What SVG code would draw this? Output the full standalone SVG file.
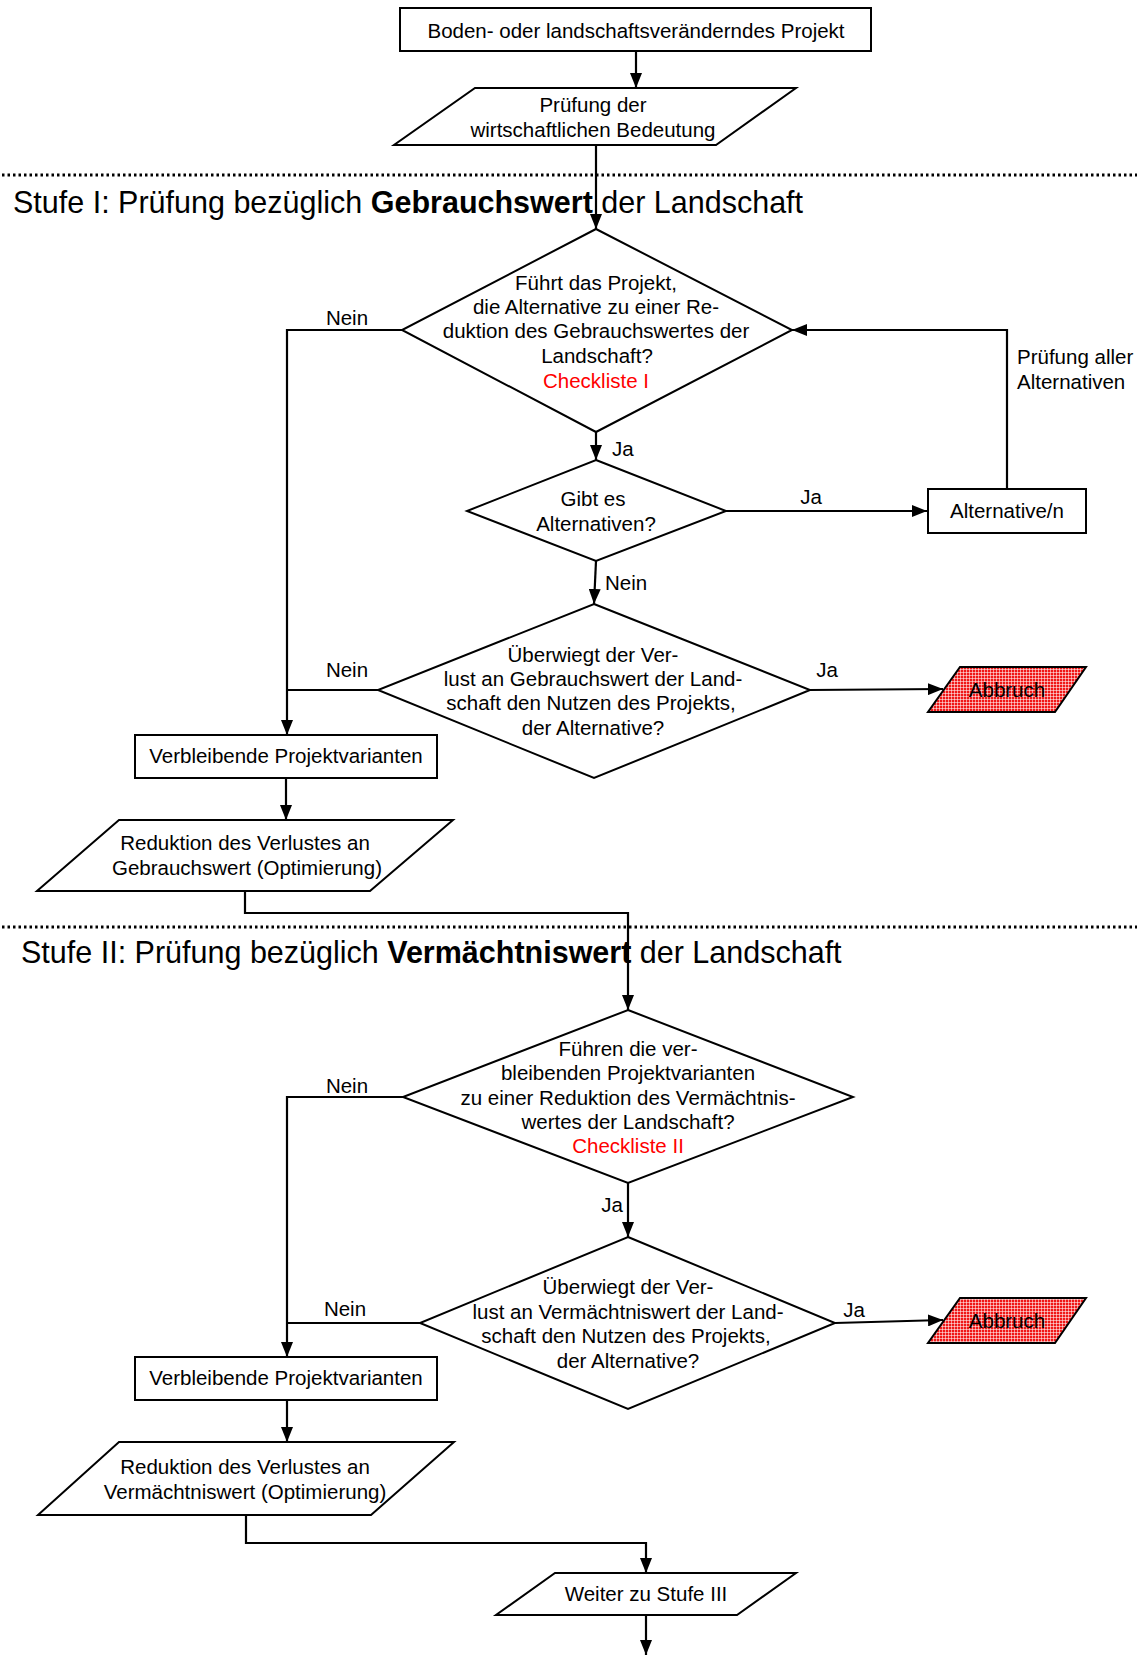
<svg xmlns="http://www.w3.org/2000/svg" width="1137" height="1655" viewBox="0 0 1137 1655">
<style>
text{font-family:"Liberation Sans",Arial,sans-serif;font-size:20.5px;fill:#000}
.c{text-anchor:middle}
.red{fill:#ff0000}
.title{font-size:30.5px}
.b{font-weight:bold}
.shape{fill:#fff;stroke:#000;stroke-width:2}
.abb{fill:url(#hatch);stroke:#000;stroke-width:2}
.con{fill:none;stroke:#000;stroke-width:2.2}
.arr{marker-end:url(#ah)}
.dots{stroke:#000;stroke-width:3;stroke-dasharray:2.5 3;fill:none}
</style>
<defs>
<marker id="ah" viewBox="0 0 15 12" refX="15" refY="6" markerWidth="15" markerHeight="12" markerUnits="userSpaceOnUse" orient="auto">
<path d="M0,0 L15,6 L0,12 Z" fill="#000"/>
</marker>
<pattern id="hatch" width="3" height="3" patternUnits="userSpaceOnUse">
<rect width="3" height="3" fill="#f01818"/>
<path d="M0,0.4 H3 M0.4,0 V3" stroke="#ffffff" stroke-width="0.8" stroke-opacity="0.75"/>
</pattern>
</defs>

<g id="separators">
<line class="dots" x1="2" y1="175" x2="1137" y2="175"/>
<line class="dots" x1="2" y1="927" x2="1137" y2="927"/>
</g>

<g id="titles">
<text class="title" x="13" y="213">Stufe I: Prüfung bezüglich <tspan class="b">Gebrauchswert</tspan> der Landschaft</text>
<text class="title" x="21" y="963">Stufe II: Prüfung bezüglich <tspan class="b">Vermächtniswert</tspan> der Landschaft</text>
</g>

<g id="connectors">
<path class="con arr" d="M636 51 V88"/>
<path class="con arr" d="M596 145 V229"/>
<path class="con arr" d="M596 432 V460"/>
<path class="con arr" d="M726 511 H927"/>
<path class="con arr" d="M1007 489 V330 H792"/>
<path class="con arr" d="M596 561 L594 604"/>
<path class="con arr" d="M402 330 H287 V735"/>
<path class="con" d="M378 690 H287"/>
<path class="con arr" d="M810 690 L943 689"/>
<path class="con arr" d="M286 778 V820"/>
<path class="con arr" d="M245 891 V913 H628 V1010"/>
<path class="con arr" d="M628 1183 V1237"/>
<path class="con arr" d="M403 1097 H287 V1357"/>
<path class="con" d="M420 1323 H287"/>
<path class="con arr" d="M835 1323 L943 1320"/>
<path class="con arr" d="M287 1400 V1442"/>
<path class="con arr" d="M246 1515 V1543 H646 V1573"/>
<path class="con arr" d="M646 1615 V1655"/>
</g>

<g id="connector-labels">
<text class="c" x="347" y="325">Nein</text>
<text x="612" y="456">Ja</text>
<text class="c" x="811" y="504">Ja</text>
<text x="605" y="590">Nein</text>
<text x="1017" y="364">Prüfung aller</text>
<text x="1017" y="389">Alternativen</text>
<text class="c" x="347" y="677">Nein</text>
<text class="c" x="827" y="677">Ja</text>
<text class="c" x="347" y="1093">Nein</text>
<text class="c" x="612" y="1212">Ja</text>
<text class="c" x="345" y="1316">Nein</text>
<text class="c" x="854" y="1317">Ja</text>
</g>

<g id="n-start">
<rect class="shape" x="400" y="8" width="471" height="43"/>
<text class="c" x="636" y="38">Boden- oder landschaftsveränderndes Projekt</text>
</g>

<g id="n-pruefung">
<polygon class="shape" points="475,88 796,88 716,145 394,145"/>
<text class="c" x="593" y="112">Prüfung der</text>
<text class="c" x="593" y="137">wirtschaftlichen Bedeutung</text>
</g>

<g id="n-d1">
<polygon class="shape" points="596,229 792,330 596,432 402,330"/>
<text class="c" x="596" y="290">Führt das Projekt,</text>
<text class="c" x="596" y="314">die Alternative zu einer Re-</text>
<text class="c" x="596" y="338">duktion des Gebrauchswertes der</text>
<text class="c" x="597" y="363">Landschaft?</text>
<text class="c red" x="596" y="388">Checkliste I</text>
</g>

<g id="n-d2">
<polygon class="shape" points="596,460 726,511 596,561 467,511"/>
<text class="c" x="593" y="506">Gibt es</text>
<text class="c" x="596" y="531">Alternativen?</text>
</g>

<g id="n-alt">
<rect class="shape" x="928" y="489" width="158" height="44"/>
<text class="c" x="1007" y="518">Alternative/n</text>
</g>

<g id="n-d3">
<polygon class="shape" points="594,604 810,690 594,778 378,690"/>
<text class="c" x="593" y="662">Überwiegt der Ver-</text>
<text class="c" x="593" y="686">lust an Gebrauchswert der Land-</text>
<text class="c" x="591" y="710">schaft den Nutzen des Projekts,</text>
<text class="c" x="593" y="735">der Alternative?</text>
</g>

<g id="n-abbruch1">
<polygon class="abb" points="960,667 1086,667 1055,712 928,712"/>
<text class="c" x="1007" y="697">Abbruch</text>
</g>

<g id="n-box1">
<rect class="shape" x="135" y="735" width="302" height="43"/>
<text class="c" x="286" y="763">Verbleibende Projektvarianten</text>
</g>

<g id="n-red1">
<polygon class="shape" points="119,820 453,820 370,891 37,891"/>
<text class="c" x="245" y="850">Reduktion des Verlustes an</text>
<text class="c" x="247" y="875">Gebrauchswert (Optimierung)</text>
</g>

<g id="n-d4">
<polygon class="shape" points="628,1010 853,1097 628,1183 403,1097"/>
<text class="c" x="628" y="1056">Führen die ver-</text>
<text class="c" x="628" y="1080">bleibenden Projektvarianten</text>
<text class="c" x="628" y="1105">zu einer Reduktion des Vermächtnis-</text>
<text class="c" x="628" y="1129">wertes der Landschaft?</text>
<text class="c red" x="628" y="1153">Checkliste II</text>
</g>

<g id="n-d5">
<polygon class="shape" points="628,1237 835,1323 628,1409 420,1323"/>
<text class="c" x="628" y="1294">Überwiegt der Ver-</text>
<text class="c" x="628" y="1319">lust an Vermächtniswert der Land-</text>
<text class="c" x="626" y="1343">schaft den Nutzen des Projekts,</text>
<text class="c" x="628" y="1368">der Alternative?</text>
</g>

<g id="n-abbruch2">
<polygon class="abb" points="960,1298 1086,1298 1055,1343 928,1343"/>
<text class="c" x="1007" y="1328">Abbruch</text>
</g>

<g id="n-box2">
<rect class="shape" x="135" y="1357" width="302" height="43"/>
<text class="c" x="286" y="1385">Verbleibende Projektvarianten</text>
</g>

<g id="n-red2">
<polygon class="shape" points="119,1442 454,1442 371,1515 38,1515"/>
<text class="c" x="245" y="1474">Reduktion des Verlustes an</text>
<text class="c" x="245" y="1499">Vermächtniswert (Optimierung)</text>
</g>

<g id="n-weiter">
<polygon class="shape" points="555,1573 796,1573 737,1615 496,1615"/>
<text class="c" x="646" y="1601">Weiter zu Stufe III</text>
</g>
</svg>
